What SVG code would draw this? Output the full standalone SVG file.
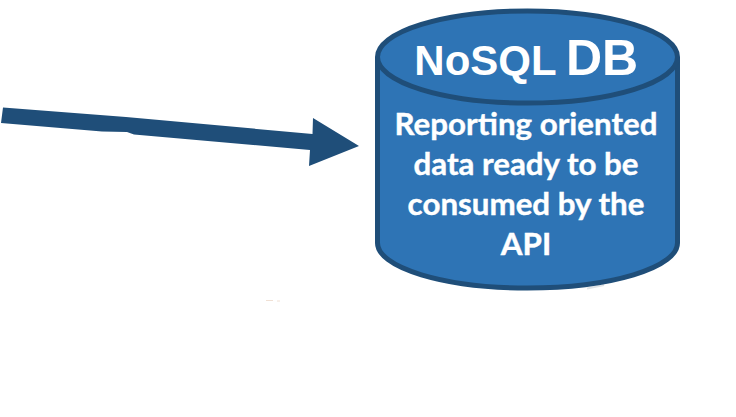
<svg xmlns="http://www.w3.org/2000/svg" width="736" height="417" viewBox="0 0 736 417">
<style>
.body{fill:#2e74b5;stroke:#1f4e79;stroke-width:5}
.rim{fill:none;stroke:#1f4e79;stroke-width:5}
.arrow{fill:#1f4e79}
.t{fill:#fff;font-weight:700;text-anchor:middle}
.h{font-family:"Liberation Sans",Arial,sans-serif}
.b{font-family:Lato,"Open Sans",sans-serif;font-size:31.300px;stroke:#fff;stroke-width:.4}
</style>
<rect width="736" height="417" fill="#fff"/>
<path d="M266 300.500h7M277 301h3" stroke="#f0e0d4" stroke-width="1" fill="none"/>
<path d="M587 288.500L604 285" stroke="#dfe3e6" stroke-width="2" fill="none"/>
<g id="connectors">
<path class="arrow" d="M3 107.500L126 117L312.500 134L313 118L359 146L309 166L310 150L134 134.500L127 132L102 131.500L1 123Z"/>
</g>
<g id="nosql-db">
<path class="body" d="M377.500 57A150 46 0 0 1 677.500 57V243A150 45 0 0 1 377.500 243Z"/>
<path class="rim" d="M377.500 57A150 46 0 0 0 677.500 57"/>
<text class="t h" x="485.500" y="75" font-size="42">NoSQL</text>
<text class="t h" x="602" y="74.500" font-size="50">DB</text>
<text class="t b" x="526" y="135">Reporting oriented</text>
<text class="t b" x="526" y="175">data ready to be</text>
<text class="t b" x="526" y="215">consumed by the</text>
<text class="t b" x="526" y="255">API</text>
</g>
</svg>
